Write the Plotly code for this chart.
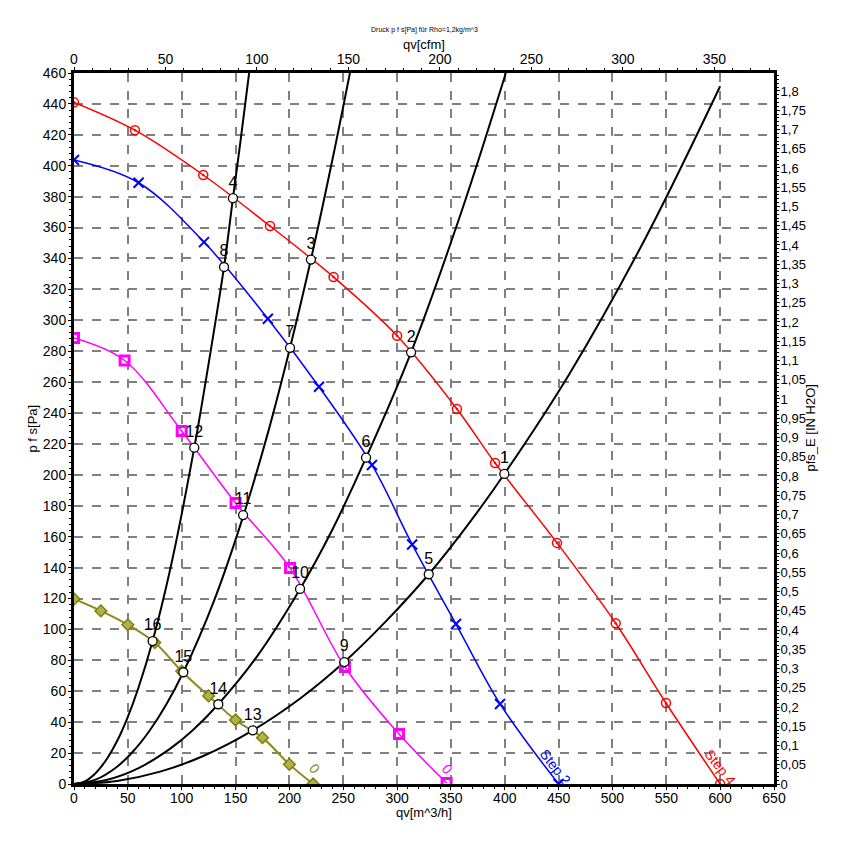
import plotly.graph_objects as go

# fan curves (qv in m^3/h, pfs in Pa)
step4_q = [0, 56.6, 120, 182, 241, 300, 355.6, 391, 448.5, 503, 549.7, 600]
step4_p = [441, 423, 394, 361, 328, 290, 242.6, 207.7, 156, 104, 52.4, 0]

step2_q = [0, 60, 120.7, 180, 227.5, 276.7, 314, 354.7, 395.6, 450]
step2_p = [403.7, 389, 350.6, 301, 257, 206.4, 155, 103.5, 51.8, 0]

mag_q = [0, 47, 100, 150, 200.6, 251.6, 301.8, 346]
mag_p = [288.5, 274, 228.4, 181.8, 139.7, 75.7, 32.3, 0.6]

olive_q = [0, 25, 50, 75, 100, 125, 150, 175, 200, 222]
olive_p = [119.7, 112, 103, 91.5, 73, 57, 41.4, 30, 12.7, 0]

# system curves (black)
sysA_q = [0, 10, 20, 30, 40, 50, 60, 73, 90, 111.7, 125, 139.3, 147.6, 155, 162.6]
sysA_p = [0, 1.7, 7.0, 15.7, 27.8, 43.5, 62.6, 92.5, 141, 217.6, 272, 334.5, 379, 418, 460]
sysB_q = [0, 20, 40, 55, 70, 85, 101.5, 130, 157, 180, 200.6, 220, 240, 256.2]
sysB_p = [0, 2.8, 11.2, 21.2, 34.3, 50.6, 72.3, 118.5, 173, 227, 282.2, 339.3, 404, 460]
sysC_q = [0, 30, 60, 90, 110, 134, 170, 209.9, 240, 271.2, 313, 360, 401]
sysC_p = [0, 2.6, 10.3, 23.2, 34.6, 51.6, 82.6, 126.2, 164.7, 211.1, 279.3, 370.7, 460]
sysD_q = [0, 40, 80, 120, 166, 210, 251, 290, 329.4, 365, 399.6, 460, 530, 600]
sysD_p = [0, 2.0, 8.0, 18.1, 34.7, 55.3, 78.9, 105.5, 135.7, 167, 200.6, 265.3, 352.3, 451.4]

# operating points
op_labels = ['1', '2', '3', '4', '5', '6', '7', '8', '9', '10', '11', '12', '13', '14', '15', '16']
op_q = [399.6, 313, 220, 147.6, 329.4, 271.2, 200.6, 139.3, 251, 209.9, 157, 111.7, 166, 134, 101.5, 73]
op_p = [200.6, 279.3, 339.3, 379, 135.7, 211.1, 282.2, 334.5, 78.9, 126.2, 174, 217.6, 34.7, 51.6, 72.3, 92.5]

CFM = 1.699      # m^3/h per cfm
INH2O = 249.09   # Pa per inH2O
FONT = 'Liberation Sans, Arial, sans-serif'

fig = go.Figure()

for q, p in [(sysA_q, sysA_p), (sysB_q, sysB_p), (sysC_q, sysC_p), (sysD_q, sysD_p)]:
    fig.add_trace(go.Scatter(x=q, y=p, mode='lines', line=dict(color='black', width=2, shape='spline'),
                             showlegend=False, hoverinfo='skip'))

fig.add_trace(go.Scatter(x=step4_q, y=step4_p, mode='lines+markers',
                         line=dict(color='#ff0000', width=1.5, shape='spline'),
                         marker=dict(symbol='circle-open-dot', size=9, color='#ff0000', line=dict(width=1.5)),
                         showlegend=False))
fig.add_trace(go.Scatter(x=step2_q, y=step2_p, mode='lines+markers',
                         line=dict(color='#0000ff', width=1.5, shape='spline'),
                         marker=dict(symbol='x-thin', size=10, color='#0000ff', line=dict(width=2, color='#0000ff')),
                         showlegend=False))
fig.add_trace(go.Scatter(x=mag_q, y=mag_p, mode='lines+markers',
                         line=dict(color='#ff00ff', width=1.5, shape='spline'),
                         marker=dict(symbol='square-open', size=9, color='#ff00ff', line=dict(width=3)),
                         showlegend=False))
fig.add_trace(go.Scatter(x=olive_q, y=olive_p, mode='lines+markers',
                         line=dict(color='#8a8a20', width=2, shape='spline'),
                         marker=dict(symbol='diamond', size=9, color='#b0b050', line=dict(width=1.5, color='#808000')),
                         showlegend=False))

fig.add_trace(go.Scatter(x=op_q, y=op_p, mode='markers+text', text=op_labels, textposition='top center',
                         textfont=dict(family=FONT, size=16, color='black'),
                         marker=dict(symbol='circle', size=9, color='white', line=dict(width=1.3, color='black')),
                         showlegend=False))

# dummy trace for secondary axes
fig.add_trace(go.Scatter(x=[0], y=[0], xaxis='x2', yaxis='y2', mode='markers',
                         marker=dict(opacity=0), showlegend=False, hoverinfo='skip'))

ann = [
    dict(text='Step 2', x=447, y=11, color='#0000ff'),
    dict(text='Step 4', x=600, y=11, color='#ff0000'),
    dict(text='0', x=224, y=10, color='#8a8a20'),
    dict(text='0', x=347, y=10, color='#ff00ff'),
]
for a in ann:
    fig.add_annotation(x=a['x'], y=a['y'], xref='x', yref='y', text=a['text'], showarrow=False,
                       textangle=52, font=dict(family=FONT, size=14, color=a['color']))

# titles
titles = [
    dict(text='Druck p f s[Pa] für Rho=1,2kg/m^3', x=0.5, y=1, xs=0, ys=43, size=7, angle=0),
    dict(text='qv[cfm]', x=0.5, y=1, xs=0, ys=29, size=13, angle=0),
    dict(text='qv[m^3/h]', x=0.5, y=0, xs=0, ys=-28, size=13, angle=0),
    dict(text='p f s[Pa]', x=0, y=0.5, xs=-42, ys=0, size=13, angle=-90),
    dict(text='pfs_E [IN H2O]', x=1, y=0.5, xs=36, ys=0, size=13, angle=-90),
]
for t in titles:
    fig.add_annotation(x=t['x'], y=t['y'], xref='paper', yref='paper', xshift=t['xs'], yshift=t['ys'],
                       xanchor='center', yanchor='middle', text=t['text'], textangle=t['angle'],
                       showarrow=False, font=dict(family=FONT, size=t['size'], color='black'))

grid = dict(showgrid=True, gridcolor='#808080', griddash='dash', gridwidth=1.5)
axis_common = dict(showline=True, linecolor='black', linewidth=3, ticks='outside', ticklen=3, automargin=False,
                   tickcolor='black', tickfont=dict(family=FONT, size=14, color='black'), zeroline=False)

# page body adds an 8 px offset, so the figure is sized 8 px smaller
fig.update_layout(
    width=842, height=851,
    margin=dict(l=66, r=76, t=65, b=75),
    paper_bgcolor='white', plot_bgcolor='white',
    separators=', ',
    font=dict(family=FONT, color='black'),
    xaxis=dict(range=[0, 650], dtick=50, **grid, **axis_common, ticklabelstandoff=-4,
               minor=dict(dtick=10, ticklen=2, tickcolor='black', showgrid=False)),
    yaxis=dict(range=[0, 460], dtick=20, **grid, **axis_common, ticklabelstandoff=-1,
               minor=dict(dtick=4, ticklen=2, tickcolor='black', showgrid=False)),
    xaxis2=dict(range=[0, 650 / CFM], dtick=50, overlaying='x', side='top', showgrid=False, **axis_common,
                ticklabelstandoff=-3, minor=dict(dtick=10, ticklen=2, tickcolor='black')),
    yaxis2=dict(range=[0, 460 / INH2O], dtick=0.05, overlaying='y', side='right', showgrid=False,
                showline=True, linecolor='black', linewidth=3, ticks='outside', ticklen=3, tickcolor='black',
                tickfont=dict(family=FONT, size=13, color='black'), zeroline=False, automargin=False,
                ticklabelstandoff=-2, minor=dict(dtick=0.01, ticklen=2, tickcolor='black')),
)

fig.write_html('out.html')
